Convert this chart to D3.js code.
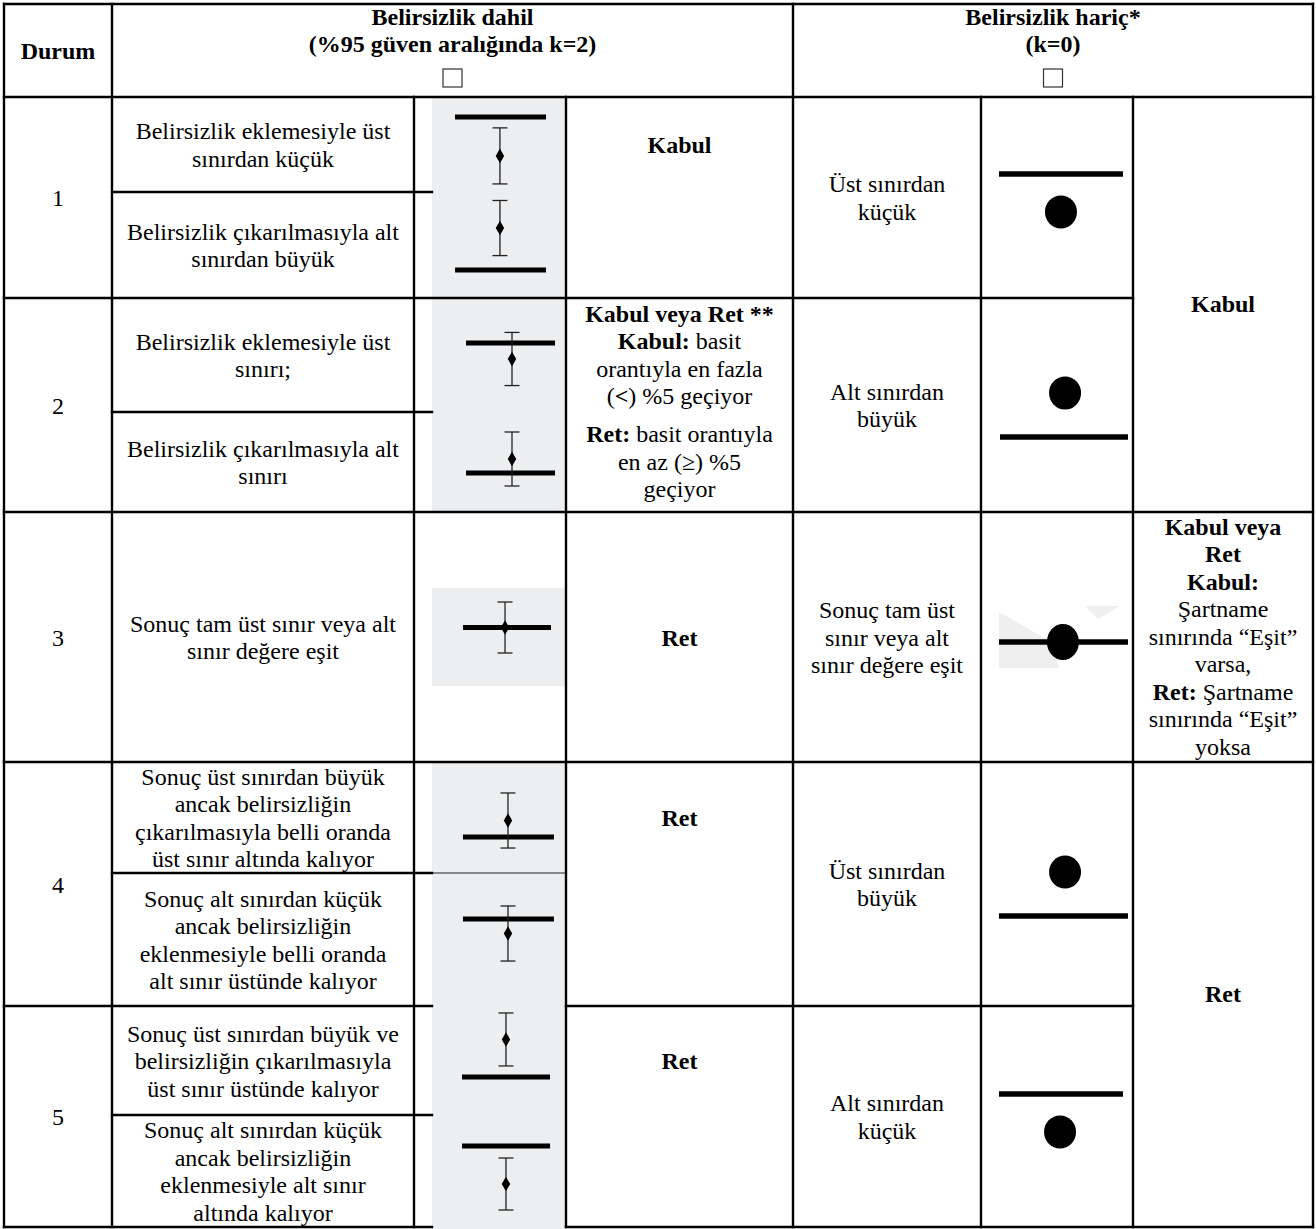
<!DOCTYPE html>
<html>
<head>
<meta charset="utf-8">
<script src="https://cdn.jsdelivr.net/npm/d3@7"></script>
<style>
html,body{margin:0;padding:0;background:#fff;}
svg{display:block;}
</style>
</head>
<body>
<div id="chart"></div>
<script>
// ================= DATA =================
const headerDurum = "Durum";
const headerWithU = ["Belirsizlik dahil", "(%95 güven aralığında k=2)"];
const headerWithoutU = ["Belirsizlik hariç*", "(k=0)"];
const caseIds = ["1", "2", "3", "4", "5"];

// descriptions of sub-cases (k=2 part); one array per case, one entry per sub-case
const caseDescriptions = [
  [["Belirsizlik eklemesiyle üst", "sınırdan küçük"], ["Belirsizlik çıkarılmasıyla alt", "sınırdan büyük"]],
  [["Belirsizlik eklemesiyle üst", "sınırı;"], ["Belirsizlik çıkarılmasıyla alt", "sınırı"]],
  [["Sonuç tam üst sınır veya alt", "sınır değere eşit"]],
  [["Sonuç üst sınırdan büyük", "ancak belirsizliğin", "çıkarılmasıyla belli oranda", "üst sınır altında kalıyor"],
   ["Sonuç alt sınırdan küçük", "ancak belirsizliğin", "eklenmesiyle belli oranda", "alt sınır üstünde kalıyor"]],
  [["Sonuç üst sınırdan büyük ve", "belirsizliğin çıkarılmasıyla", "üst sınır üstünde kalıyor"],
   ["Sonuç alt sınırdan küçük", "ancak belirsizliğin", "eklenmesiyle alt sınır", "altında kalıyor"]]
];

// decisions with uncertainty: lines made of [text, bold] segments
const decisionsWithU = [
  [[["Kabul", true]]],
  [[["Kabul veya Ret **", true]],
   [["Kabul:", true], [" basit", false]],
   [["orantıyla en fazla", false]],
   [["(", false], ["<", true], [") %5 geçiyor", false]],
   [["Ret:", true], [" basit orantıyla", false]],
   [["en az (≥) %5", false]],
   [["geçiyor", false]]],
  [[["Ret", true]]],
  [[["Ret", true]]],
  [[["Ret", true]]]
];

// descriptions without uncertainty (k=0)
const k0Descriptions = [
  ["Üst sınırdan", "küçük"],
  ["Alt sınırdan", "büyük"],
  ["Sonuç tam üst", "sınır veya alt", "sınır değere eşit"],
  ["Üst sınırdan", "büyük"],
  ["Alt sınırdan", "küçük"]
];

// decisions without uncertainty (merged cells: which cases they span)
const decisionsWithoutU = [
  { cases: [0, 1], lines: [[["Kabul", true]]] },
  { cases: [2], lines: [
    [["Kabul veya", true]], [["Ret", true]], [["Kabul:", true]],
    [["Şartname", false]], [["sınırında “Eşit”", false]], [["varsa,", false]],
    [["Ret:", true], [" Şartname", false]], [["sınırında “Eşit”", false]], [["yoksa", false]]
  ] },
  { cases: [3, 4], lines: [[["Ret", true]]] }
];

// k=2 glyphs, one per sub-case (panel units 0–10, bottom to top)
const k2Limit  = [7.9, 2.64, 6.05, 3.9, 5.38, 3.24, 6.54, 3.49, 7.23];
const k2Result = [3.8, 6.6, 4.65, 5.3, 5.38, 4.73, 5.45, 6.93, 3.84];
const k2U      = [2.95, 2.6, 2.33, 2.7, 1.02, 2.48, 2.07, 2.43, 2.32];
// horizontal placement per case (panel units 0–10, left to right)
const k2Center  = [5.07, 5.97, 5.45, 5.67, 5.52];
const k2BarFrom = [1.72, 2.54, 2.31, 2.31, 2.24];
const k2BarTo   = [8.51, 9.18, 8.88, 9.10, 8.81];

// k=0 glyphs, one per case (panel units 0–10)
const k0Limit  = [6.17, 3.5, 4.8, 3.69, 6.02];
const k0Result = [4.28, 5.56, 4.8, 5.49, 4.3];
const k0Cx     = [5.26, 5.53, 5.39, 5.53, 5.2];
const k0BarFrom = [1.18, 1.25, 1.18, 1.18, 1.18];
const k0BarTo   = [9.34, 9.67, 9.67, 9.67, 9.34];

// ================= LAYOUT =================
const W = 1316, H = 1229;
const FONT = "Liberation Serif";
const FS = 24, LH = 27.5, OFF = 8.5;
const X = [4, 112, 414, 566, 793, 981, 1133, 1313];
const TOP = 4, HEAD = 97;
const rowEdges = [97, 298, 512, 762, 1006, 1227];
const subSplits = [192, 412, null, 873, 1115];
const grayX0 = 432;
const GRAY = "#edeef0";
const LW = 2.4;

const svg = d3.select("#chart").append("svg").attr("width", W).attr("height", H);
svg.append("rect").attr("width", W).attr("height", H).attr("fill", "#fff");

function subCells(i) {
  const t = rowEdges[i], b = rowEdges[i + 1], s = subSplits[i];
  return s == null ? [[t, b]] : [[t, s], [s, b]];
}

// ---------- gray panels behind k=2 glyphs ----------
const grayG = svg.append("g");
const grayPanels = [[97, 298], [298, 512], [588, 686], [762, 873], [873, 1006], [1006, 1229]];
grayG.selectAll("rect").data(grayPanels).join("rect")
  .attr("x", grayX0).attr("width", X[3] - grayX0)
  .attr("y", d => d[0]).attr("height", d => d[1] - d[0])
  .attr("fill", GRAY);
grayG.append("line").attr("x1", grayX0).attr("x2", X[3]).attr("y1", 873).attr("y2", 873)
  .attr("stroke", "#222").attr("stroke-width", 1.2);

// ---------- grid lines ----------
const hLines = [
  [TOP, X[0], X[7]], [HEAD, X[0], X[7]],
  [192, X[1], grayX0], [412, X[1], grayX0], [873, X[1], grayX0], [1115, X[1], grayX0],
  [298, X[0], X[6]], [512, X[0], X[7]], [762, X[0], X[7]],
  [1006, X[0], grayX0], [1006, X[3], X[6]],
  [1227, X[0], grayX0], [1227, X[3], X[7]]
];
const vLines = [
  [X[0], TOP, 1227], [X[1], TOP, 1227], [X[2], HEAD, 1227], [X[3], HEAD, 1227],
  [X[4], TOP, 1227], [X[5], HEAD, 1227], [X[6], HEAD, 1227], [X[7], TOP, 1227]
];
const gridG = svg.append("g").attr("stroke", "#000").attr("stroke-width", LW).attr("stroke-linecap", "square");
gridG.selectAll(".h").data(hLines).join("line").attr("class", "h")
  .attr("x1", d => d[1]).attr("x2", d => d[2]).attr("y1", d => d[0]).attr("y2", d => d[0]);
gridG.selectAll(".v").data(vLines).join("line").attr("class", "v")
  .attr("x1", d => d[0]).attr("x2", d => d[0]).attr("y1", d => d[1]).attr("y2", d => d[2]);

// ---------- text helper ----------
const textG = svg.append("g");
function norm(line) {
  if (typeof line === "string") return [[line, false]];
  return line;
}
function addText(x, y, anchor) {
  return textG.append("text").attr("x", x).attr("y", y).attr("text-anchor", anchor)
    .attr("font-family", FONT).attr("font-size", FS).attr("fill", "#000");
}
function drawBlock(lines, cx, top, bottom, opts = {}) {
  const gaps = opts.gaps || {};
  const n = lines.length;
  let offs = [], acc = 0;
  for (let i = 0; i < n; i++) { if (i > 0) acc += LH + (gaps[i] || 0); offs.push(acc); }
  const center = (top + bottom) / 2 + (opts.dy || 0);
  const first = center - acc / 2 + OFF;
  lines.forEach((ln, i) => {
    const t = addText(cx, first + offs[i], "middle");
    norm(ln).forEach(([s, b]) => {
      t.append("tspan").attr("font-family", FONT).attr("font-weight", b ? "bold" : "normal")
        .text(s.replace(/^ /, "\u00a0"));
    });
  });
}

// ---------- header ----------
drawBlock([[[headerDurum, true]]], (X[0] + X[1]) / 2, TOP, HEAD);
const hdrLeftCx = (X[1] + X[4]) / 2, hdrRightCx = (X[4] + X[7]) / 2;
[[headerWithU, hdrLeftCx], [headerWithoutU, hdrRightCx]].forEach(([lines, cx]) => {
  lines.forEach((s, i) => {
    addText(cx, 25 + i * 26.5, "middle").attr("font-weight", "bold").text(s);
  });
  textG.append("rect").attr("x", cx - 9.5).attr("y", 69).attr("width", 19).attr("height", 18)
    .attr("fill", "#fff").attr("stroke", "#333").attr("stroke-width", 1.2);
});

// ---------- body text ----------
caseIds.forEach((id, i) => {
  drawBlock([id], (X[0] + X[1]) / 2, rowEdges[i], rowEdges[i + 1]);
  subCells(i).forEach((sc, j) => {
    drawBlock(caseDescriptions[i][j], (X[1] + X[2]) / 2, sc[0], sc[1]);
  });
  const dcx = (X[3] + X[4]) / 2;
  if (i === 1) {
    drawBlock(decisionsWithU[i], dcx, rowEdges[i], rowEdges[i + 1], { gaps: { 4: 10.5 }, dy: -4 });
  } else {
    const sc = subCells(i)[0];
    drawBlock(decisionsWithU[i], dcx, sc[0], sc[1]);
  }
  drawBlock(k0Descriptions[i], (X[4] + X[5]) / 2, rowEdges[i], rowEdges[i + 1]);
});
decisionsWithoutU.forEach(d => {
  const t = rowEdges[d.cases[0]], b = rowEdges[d.cases[d.cases.length - 1] + 1];
  drawBlock(d.lines, (X[6] + X[7]) / 2, t, b, { dy: -1 });
});

// ---------- k=2 glyphs ----------
const glyphG = svg.append("g");
const k2x = d3.scaleLinear().domain([0, 10]).range([grayX0, X[3]]);
const diamond = d3.symbol().type(d3.symbolDiamond).size(62);
let k = 0;
caseIds.forEach((id, i) => {
  subCells(i).forEach(sc => {
    const y = d3.scaleLinear().domain([0, 10]).range([sc[1], sc[0]]);
    const cx = k2x(k2Center[i]);
    const g = glyphG.append("g");
    g.append("line").attr("x1", k2x(k2BarFrom[i])).attr("x2", k2x(k2BarTo[i]))
      .attr("y1", y(k2Limit[k])).attr("y2", y(k2Limit[k]))
      .attr("stroke", "#000").attr("stroke-width", 5);
    const yt = y(k2Result[k] + k2U[k]), yb = y(k2Result[k] - k2U[k]);
    g.append("line").attr("x1", cx).attr("x2", cx).attr("y1", yt).attr("y2", yb)
      .attr("stroke", "#222").attr("stroke-width", 1.3);
    [yt, yb].forEach(yy => g.append("line").attr("x1", cx - 7.5).attr("x2", cx + 7.5)
      .attr("y1", yy).attr("y2", yy).attr("stroke", "#222").attr("stroke-width", 1.3));
    g.append("path").attr("d", diamond).attr("transform", `translate(${cx},${y(k2Result[k])})`)
      .attr("fill", "#000");
    k++;
  });
});

// ---------- k=0 glyphs ----------
const k0x = d3.scaleLinear().domain([0, 10]).range([X[5], X[6]]);
caseIds.forEach((id, i) => {
  const y = d3.scaleLinear().domain([0, 10]).range([rowEdges[i + 1], rowEdges[i]]);
  const g = glyphG.append("g");
  if (i === 2) {
    const bg = [[[1.18, 6.0], [4.41, 4.88], [5.2, 3.76], [1.18, 3.76]],
                [[6.84, 6.24], [9.14, 6.24], [7.7, 5.72]]];
    g.selectAll("polygon").data(bg).join("polygon")
      .attr("points", d => d.map(p => [k0x(p[0]), y(p[1])].join(",")).join(" "))
      .attr("fill", "#efefef");
  }
  g.append("line").attr("x1", k0x(k0BarFrom[i])).attr("x2", k0x(k0BarTo[i]))
    .attr("y1", y(k0Limit[i])).attr("y2", y(k0Limit[i]))
    .attr("stroke", "#000").attr("stroke-width", 5.5);
  g.append("ellipse").attr("cx", k0x(k0Cx[i])).attr("cy", y(k0Result[i]))
    .attr("rx", 16).attr("ry", i === 2 ? 18 : 16.5).attr("fill", "#000");
});
</script>
</body>
</html>
